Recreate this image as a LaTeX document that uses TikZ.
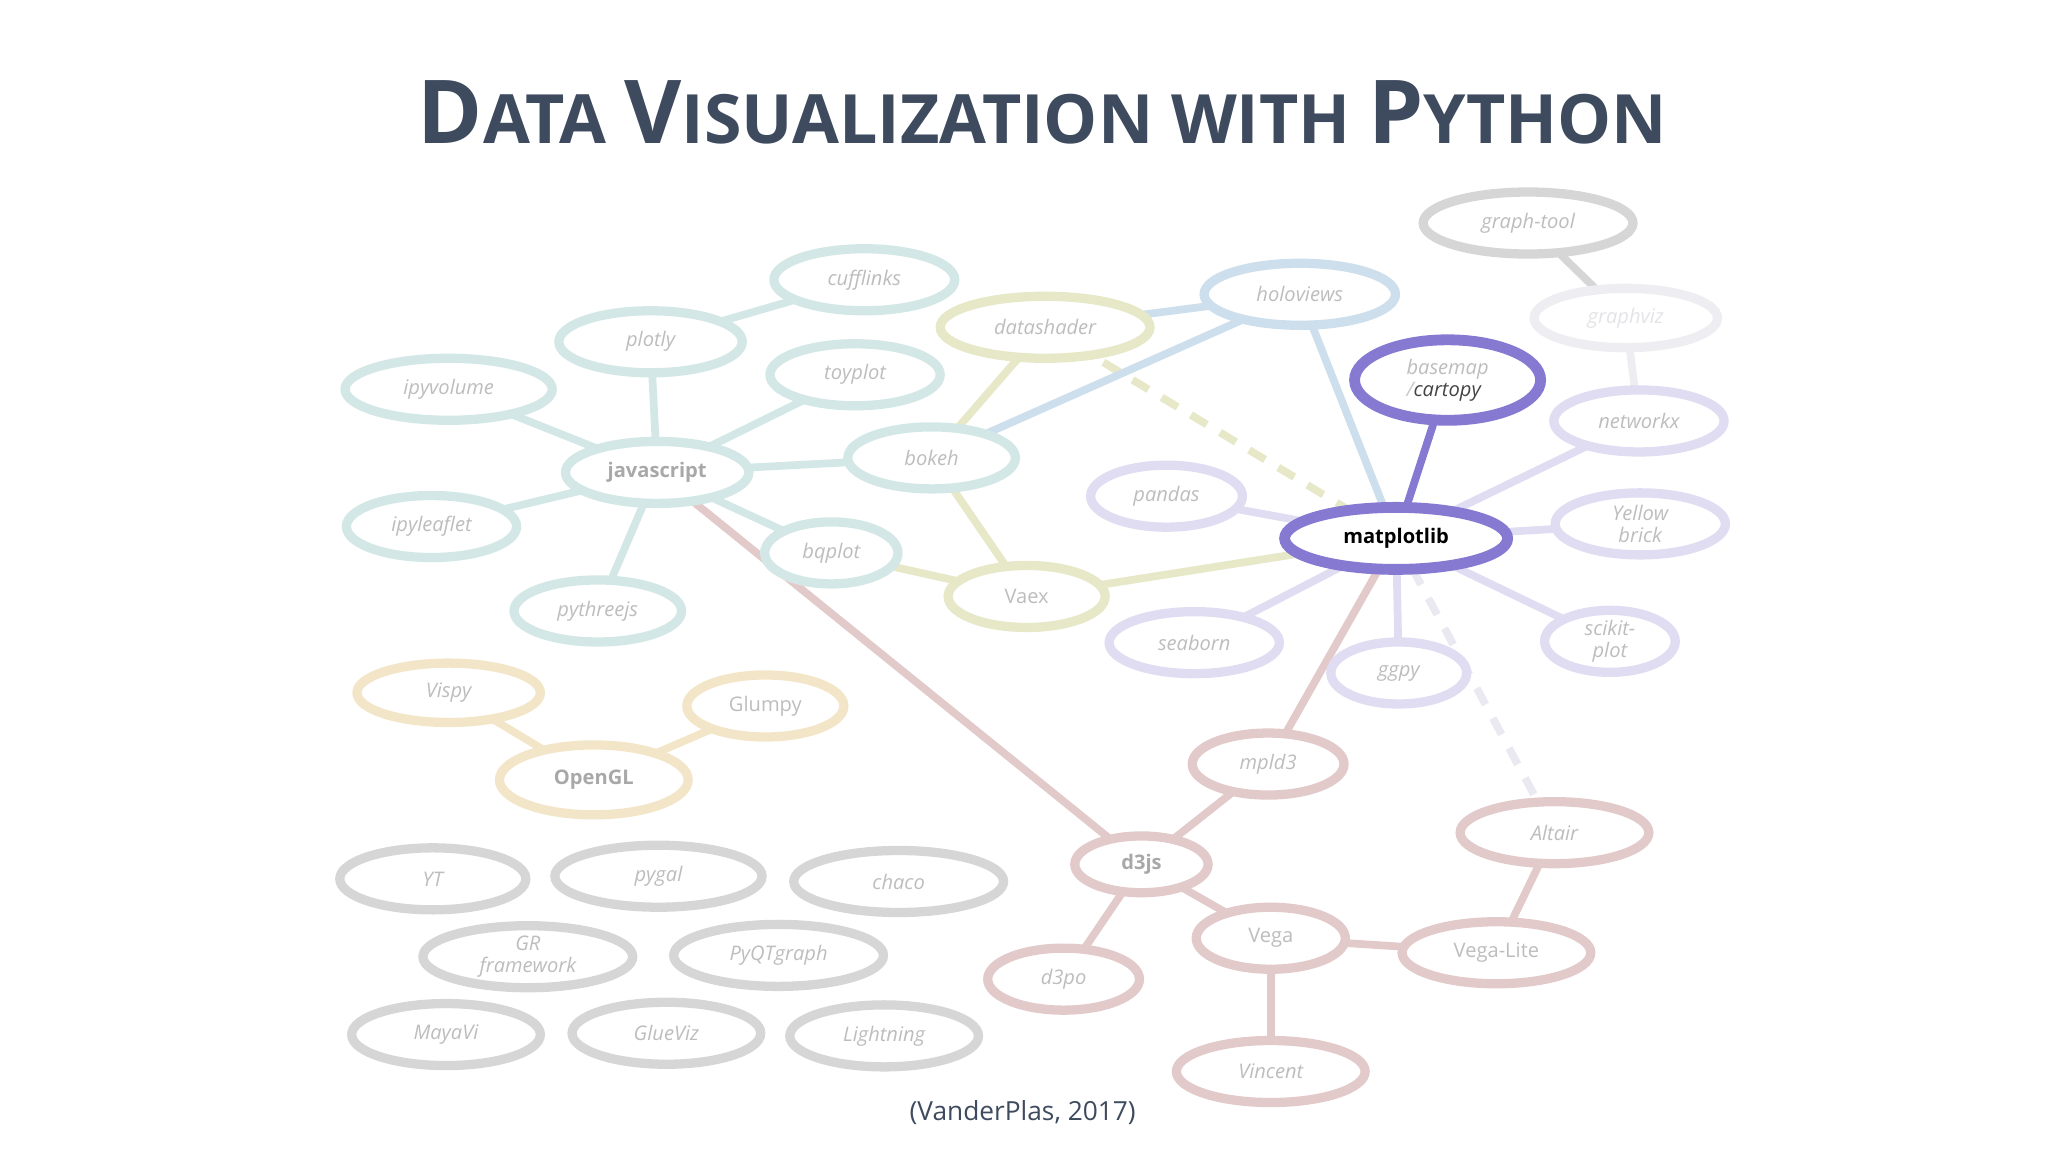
\documentclass[tikz,border=0pt]{standalone}
\usepackage{fontspec}
\setmainfont{Open Sans}
\usetikzlibrary{shapes.geometric}
\pgfdeclarelayer{bg}\pgfsetlayers{bg,main}
\definecolor{cteal}{HTML}{D3E8E6}
\definecolor{colive}{HTML}{E6E8C8}
\definecolor{cblue}{HTML}{CDDFEC}
\definecolor{clav}{HTML}{E0DCF2}
\definecolor{cpur}{HTML}{8679D1}
\definecolor{cgray}{HTML}{D6D6D6}
\definecolor{cpink}{HTML}{E3CACA}
\definecolor{cyel}{HTML}{F3E6C8}
\definecolor{cvlight}{HTML}{EEEEF2}
\definecolor{ctxt}{HTML}{BDBDBD}
\definecolor{ctitle}{HTML}{3E4A5E}
\tikzset{
 nd/.style={ellipse,draw=#1,line width=6pt,fill=white,inner sep=0pt,text=ctxt,
   font=\fontsize{13}{15}\selectfont\itshape,align=center},
 ed/.style={draw=#1,line width=5pt},
}
\newcommand{\nd}[7]{\node[nd=#6,minimum width={(2*#4-7)*0.03cm},minimum height={(2*#5-7)*0.03cm}] (#1) at (#2,#3) {#7};}
\begin{document}
\begin{tikzpicture}[x=0.03cm,y=-0.03cm]
\useasboundingbox (0,0) rectangle (1552,873);
\node[text=ctitle,font=\bfseries] (title) at (790,85) {\fontsize{57}{57}\selectfont D\fontsize{44}{44}\selectfont ATA \fontsize{57}{57}\selectfont V\fontsize{44}{44}\selectfont ISUALIZATION WITH \fontsize{57}{57}\selectfont P\fontsize{44}{44}\selectfont YTHON};
\nd{cufflinks}{655}{212}{72}{27}{cteal}{cufflinks}
\nd{plotly}{493}{259}{73}{27}{cteal}{plotly}
\nd{ipyvolume}{340}{295}{82}{27}{cteal}{ipyvolume}
\nd{toyplot}{648}{284}{68}{27}{cteal}{toyplot}
\nd{javascript}{498}{358}{73}{27}{cteal}{\upshape\bfseries\color[HTML]{A8A8A8}javascript}
\nd{ipyleaflet}{327}{399}{68}{27}{cteal}{ipyleaflet}
\nd{pythreejs}{453}{463}{67}{27}{cteal}{pythreejs}
\nd{bokeh}{706}{347}{67}{27}{cteal}{bokeh}
\nd{bqplot}{630}{419}{54}{27}{cteal}{bqplot}
\nd{datashader}{792}{248}{83}{27}{colive}{datashader}
\nd{holoviews}{985}{223}{76}{27}{cblue}{holoviews}
\nd{Vaex}{778}{452}{63}{27}{colive}{\upshape Vaex}
\nd{pandas}{884}{376}{61}{27}{clav}{pandas}
\node[nd=cpur,line width=7pt,minimum width={169*0.03cm},minimum height={47*0.03cm},text=black] (matplotlib) at (1058,408) {\upshape\bfseries matplotlib};
\node[nd=cpur,line width=7pt,minimum width={141*0.03cm},minimum height={61*0.03cm},align=left] (basemap) at (1097,288) {basemap\\[-1pt]\color[HTML]{C8C8C8}/\color[HTML]{444444}cartopy};
\nd{graphtool}{1158}{169}{83}{27}{cgray}{graph-tool}
\nd{graphviz}{1232}{241}{73}{26}{cvlight}{\color[HTML]{E4E4E8}graphviz}
\nd{networkx}{1242}{319}{68}{27}{clav}{networkx}
\nd{yellowbrick}{1243}{397}{68}{27}{clav}{Yellow\\[-1pt]brick}
\nd{scikit}{1220}{486}{53}{27}{clav}{scikit-\\[-1pt]plot}
\nd{seaborn}{905}{487}{68}{27}{clav}{seaborn}
\nd{ggpy}{1060}{510}{55}{27}{clav}{ggpy}
\nd{mpld3}{961}{579}{61}{27}{cpink}{mpld3}
\node[nd=cpink,minimum width={101*0.03cm},minimum height={43*0.03cm}] (d3js) at (865,655) {\upshape\bfseries\color[HTML]{A8A8A8}d3js};
\nd{Altair}{1178}{631}{75}{27}{cpink}{Altair}
\nd{Vega}{963}{711}{60}{27}{cpink}{\upshape Vega}
\nd{VegaLite}{1134}{722}{75}{27}{cpink}{\upshape Vega-Lite}
\nd{d3po}{806}{742}{61}{27}{cpink}{d3po}
\nd{Vincent}{963}{812}{75}{27}{cpink}{Vincent}
\nd{Vispy}{340}{525}{73}{26}{cyel}{Vispy}
\nd{Glumpy}{580}{535}{63}{27}{cyel}{\upshape Glumpy}
\node[nd=cyel,minimum width={143*0.03cm},minimum height={53*0.03cm}] (OpenGL) at (450,591) {\upshape\bfseries\color[HTML]{A8A8A8}OpenGL};
\nd{YT}{328}{666}{74}{27}{cgray}{YT}
\nd{pygal}{499}{664}{82}{27}{cgray}{pygal}
\nd{chaco}{681}{668}{83}{27}{cgray}{chaco}
\nd{GR}{400}{725}{83}{27}{cgray}{GR\\[-1pt]framework}
\nd{PyQT}{590}{724}{83}{27}{cgray}{PyQTgraph}
\nd{MayaVi}{338}{784}{75}{27}{cgray}{MayaVi}
\nd{GlueViz}{505}{783}{75}{27}{cgray}{GlueViz}
\nd{Lightning}{670}{785}{75}{27}{cgray}{Lightning}
\node[text=ctitle,font=\fontsize{17}{17}\selectfont] (cite) at (775,843) {(VanderPlas, 2017)};
\begin{pgfonlayer}{bg}
\foreach \a/\b in {cufflinks/plotly,plotly/javascript,ipyvolume/javascript,toyplot/javascript,ipyleaflet/javascript,pythreejs/javascript,javascript/bokeh,javascript/bqplot}
  \draw[ed=cteal] (\a.center) -- (\b.center);
\draw[ed=cpink] (javascript.center) -- (d3js.center);
\foreach \a/\b in {bokeh/datashader,bokeh/Vaex,bqplot/Vaex,Vaex/matplotlib}
  \draw[ed=colive] (\a.center) -- (\b.center);
\draw[ed=colive,dashed,dash pattern=on 12pt off 10pt] (datashader.center) -- (matplotlib.center);
\foreach \a/\b in {bokeh/holoviews,datashader/holoviews,holoviews/matplotlib}
  \draw[ed=cblue] (\a.center) -- (\b.center);
\foreach \a/\b in {pandas/matplotlib,networkx/matplotlib,yellowbrick/matplotlib,scikit/matplotlib,seaborn/matplotlib,ggpy/matplotlib}
  \draw[ed=clav] (\a.center) -- (\b.center);
\draw[ed=cvlight] (graphviz.center) -- (networkx.center);
\draw[ed=cpur] (basemap.center) -- (matplotlib.center);
\draw[ed=cgray] (graphtool.center) -- (graphviz.center);
\draw[ed=cvlight!70!clav,dashed,dash pattern=on 12pt off 10pt] (matplotlib.center) -- (Altair.center);
\foreach \a/\b in {matplotlib/mpld3,mpld3/d3js,d3js/d3po,d3js/Vega,Vega/VegaLite,Altair/VegaLite,Vega/Vincent}
  \draw[ed=cpink] (\a.center) -- (\b.center);
\foreach \a/\b in {Vispy/OpenGL,Glumpy/OpenGL}
  \draw[ed=cyel] (\a.center) -- (\b.center);
\end{pgfonlayer}
\end{tikzpicture}
\end{document}
